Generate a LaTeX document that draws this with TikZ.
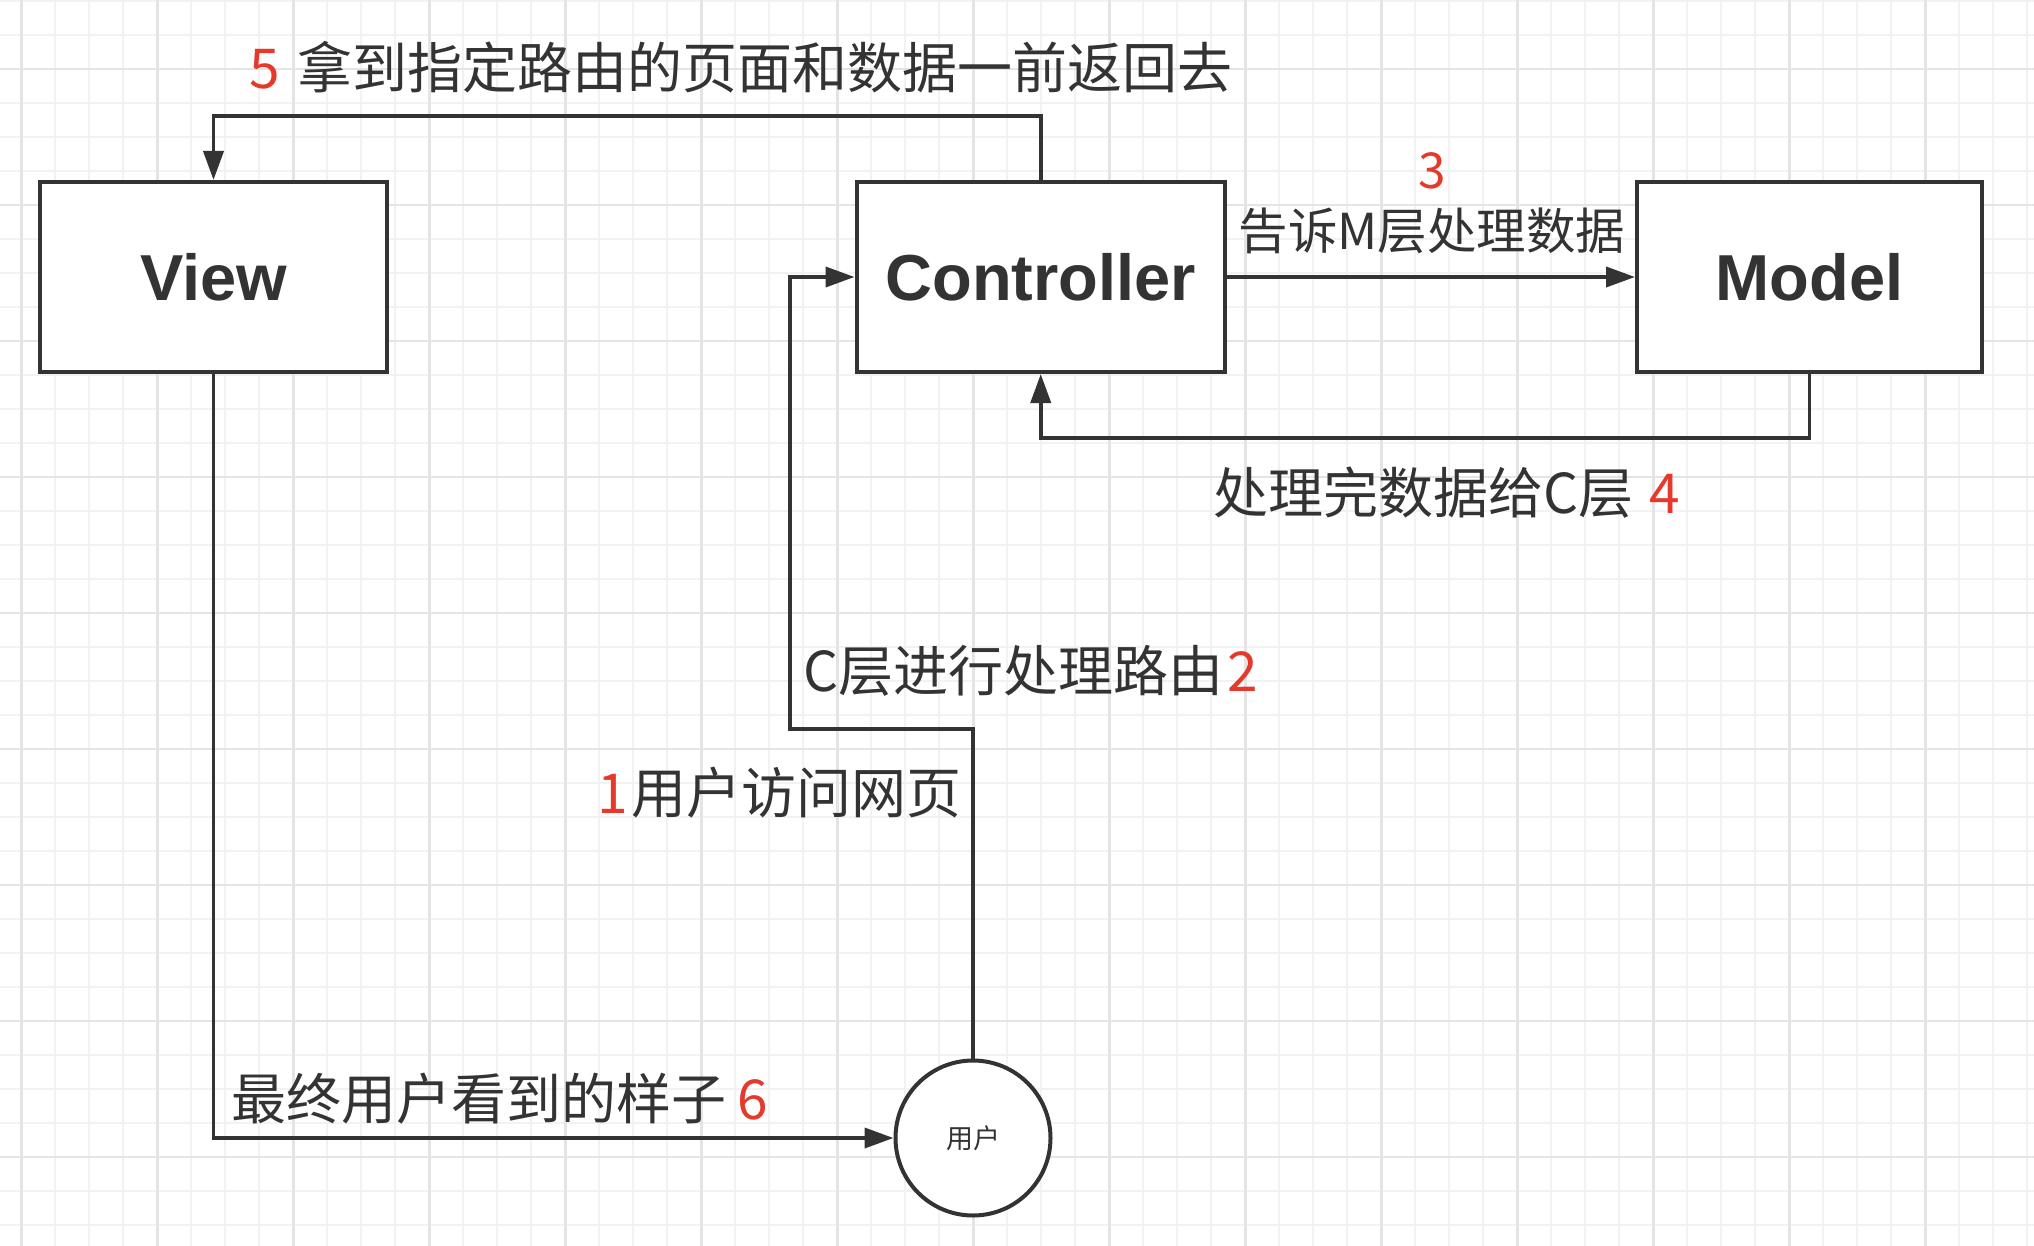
\documentclass[tikz,border=0pt]{standalone}
\usepackage{fontspec}
\setmainfont{Liberation Sans}
\newfontfamily\cjk{Noto Sans CJK SC}
\usetikzlibrary{arrows.meta}
\definecolor{ink}{HTML}{333333}
\definecolor{rednum}{RGB}{229,57,43}
\definecolor{gridminor}{RGB}{242,242,242}
\definecolor{gridmajor}{RGB}{228,228,228}
\newcommand{\rn}[1]{\textcolor{rednum}{#1}}
\begin{document}
\begin{tikzpicture}[x=1pt,y=-1pt,
  box/.style={draw=ink, line width=4pt, fill=white, rectangle, inner sep=0pt,
    font=\fontsize{65}{78}\selectfont\bfseries, text=ink},
  usernode/.style={draw=ink, line width=4pt, fill=white, circle, inner sep=0pt,
    minimum size=155pt, font=\cjk\fontsize{27}{32}\selectfont, text=ink},
  conn/.style={draw=ink, line width=3.8pt, -{Triangle[length=29pt,width=20pt]}},
  lbl/.style={inner sep=0pt, text=ink, font=\cjk\fontsize{55}{66}\selectfont},
  lblsmall/.style={inner sep=0pt, text=ink, font=\cjk\fontsize{49.5}{58}\selectfont}]
\useasboundingbox (0,0) rectangle (2034,1246);
\fill[white] (0,0) rectangle (2034,1246);
% grid
\begin{scope}
  \clip (0,0) rectangle (2034,1246);
  \foreach \k in {0,...,59}{
    \draw[gridminor, line width=2pt] ({21.3+34*\k},0) -- ({21.3+34*\k},1246);
  }
  \foreach \k in {0,...,36}{
    \draw[gridminor, line width=2pt] (0,{1+34*\k}) -- (2034,{1+34*\k});
  }
  \foreach \k in {0,...,14}{
    \draw[gridmajor, line width=2.5pt] ({21.3+136*\k},0) -- ({21.3+136*\k},1246);
  }
  \foreach \k in {0,...,9}{
    \draw[gridmajor, line width=2.5pt] (0,{69+136*\k}) -- (2034,{69+136*\k});
  }
\end{scope}
% nodes
\node[box, minimum width=347pt, minimum height=190pt] (view) at (213.5,277) {View};
\node[box, minimum width=368.5pt, minimum height=190pt] (ctrl) at (1040.75,277) {Controller};
\node[box, minimum width=345pt, minimum height=190pt] (model) at (1809.5,277) {Model};
\node[usernode] (user) at (973,1138) {用户};
\coordinate (c2) at (790,729);
% connectors
\draw[conn] (ctrl.north) -- ++(0,-64) -| (view.north);
\draw[conn] (ctrl.east) -- (model.west);
\draw[conn] (model.south) -- ++(0,64) -| (ctrl.south);
\draw[conn] (user.north) |- (c2) |- (ctrl.west);
\draw[conn] (view.south) |- (user.west);
% labels
\node[lbl, anchor=west] (l5) at (249,67) {\rn{5}\hspace{0.32em}拿到指定路由的页面和数据一前返回去};
\node[lblsmall] (l3n) at (1432,171) {\rn{3}};
\node[lblsmall] (l3) at (1432,231) {告诉M层处理数据};
\node[lbl, anchor=west] (l4) at (1213,493) {处理完数据给C层\hspace{0.3em}\rn{4}};
\node[lbl, anchor=west] (l2) at (803,671) {C层进行处理路由\hspace{0.08em}\rn{2}};
\node[lbl, anchor=west] (l1) at (597,793) {\rn{1}\hspace{0.06em}用户访问网页};
\node[lbl, anchor=west] (l6) at (231,1099) {最终用户看到的样子\hspace{0.2em}\rn{6}};
\end{tikzpicture}
\end{document}
